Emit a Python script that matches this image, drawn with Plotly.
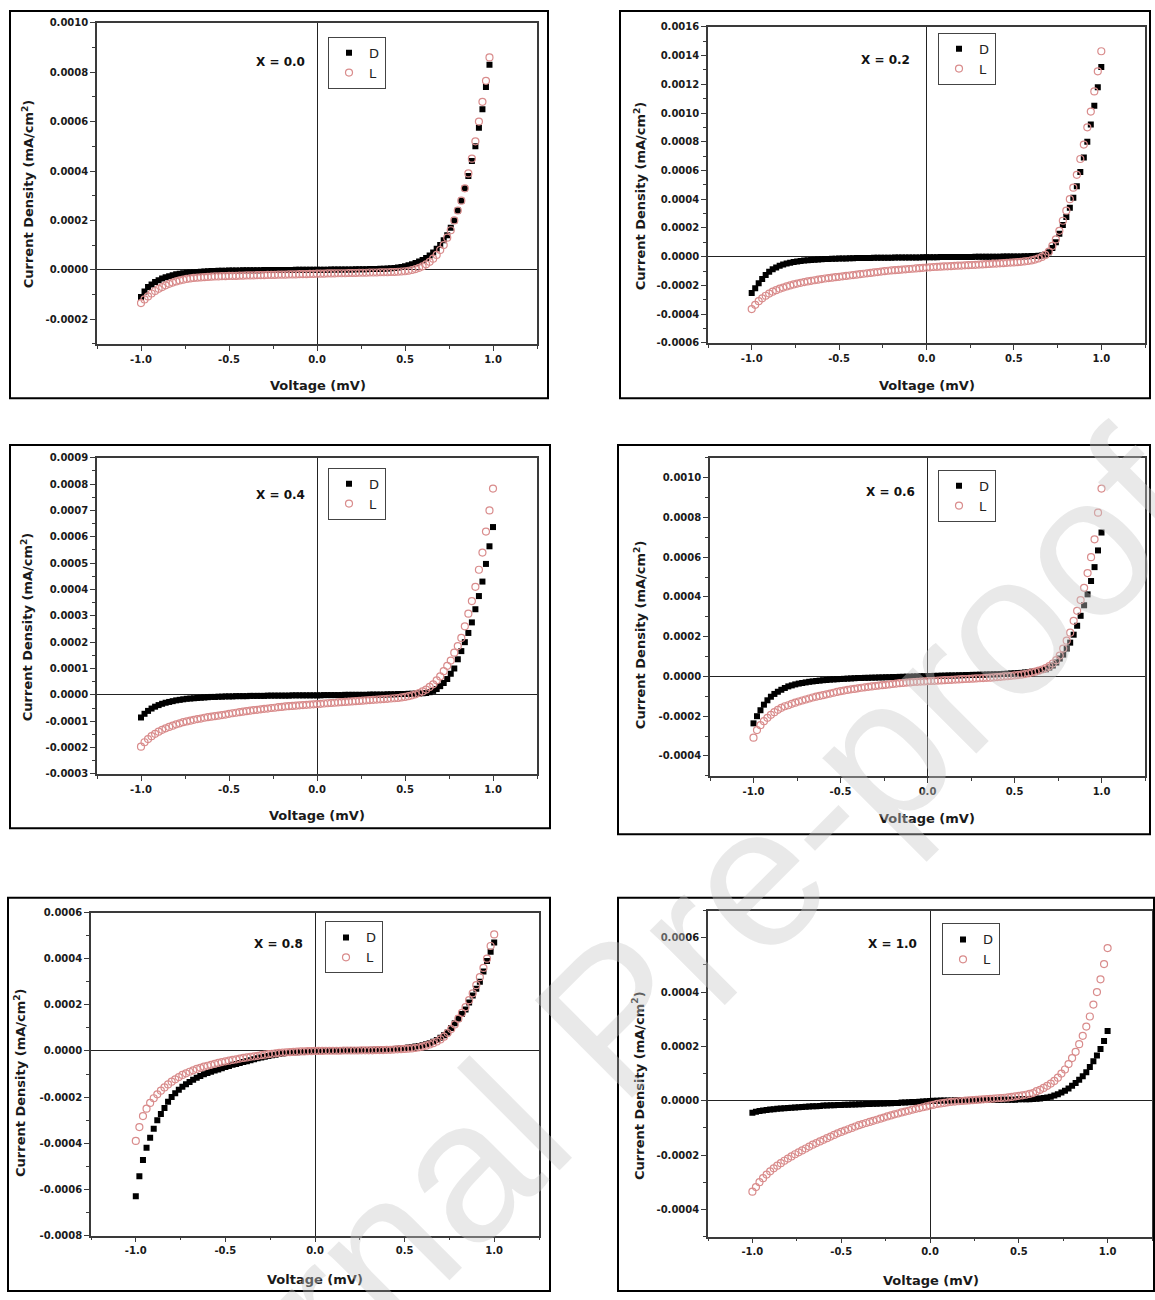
import plotly.graph_objects as go

W, H = 1155, 1300

# ---------------- data (current density in units of 1e-6 mA/cm^2) ----------------
voltage = [
    -1.00, -0.98, -0.96, -0.94, -0.92, -0.90, -0.88, -0.86, -0.84, -0.82,
    -0.80, -0.78, -0.76, -0.74, -0.72, -0.70, -0.68, -0.66, -0.64, -0.62,
    -0.60, -0.58, -0.56, -0.54, -0.52, -0.50, -0.48, -0.46, -0.44, -0.42,
    -0.40, -0.38, -0.36, -0.34, -0.32, -0.30, -0.28, -0.26, -0.24, -0.22,
    -0.20, -0.18, -0.16, -0.14, -0.12, -0.10, -0.08, -0.06, -0.04, -0.02,
    0.00, 0.02, 0.04, 0.06, 0.08, 0.10, 0.12, 0.14, 0.16, 0.18,
    0.20, 0.22, 0.24, 0.26, 0.28, 0.30, 0.32, 0.34, 0.36, 0.38,
    0.40, 0.42, 0.44, 0.46, 0.48, 0.50, 0.52, 0.54, 0.56, 0.58,
    0.60, 0.62, 0.64, 0.66, 0.68, 0.70, 0.72, 0.74, 0.76, 0.78,
    0.80, 0.82, 0.84, 0.86, 0.88, 0.90, 0.92, 0.94, 0.96, 0.98,
    1.00]

x00_D = [
    -110, -88, -70, -60, -50, -42, -35, -30, -26, -22,
    -18, -16, -14, -12, -11, -10, -9, -8, -7, -6,
    -5, -5, -4, -4, -4, -3, -3, -3, -3, -2,
    -2, -2, -2, -2, -2, -1, -1, -1, -1, -1,
    -1, -1, -1, -1, 0, 0, 0, 0, 0, 0,
    0, 0, 0, 0, 1, 1, 1, 1, 1, 1,
    1, 2, 2, 2, 2, 3, 3, 3, 4, 4,
    5, 6, 7, 9, 11, 14, 18, 22, 27, 33,
    40, 48, 58, 70, 85, 100, 120, 140, 170, 200,
    240, 280, 330, 380, 440, 500, 575, 650, 740, 830,
    None]
x00_L = [
    -135, -120, -108, -96, -86, -77, -70, -63, -57, -52,
    -47, -43, -40, -37, -35, -33, -32, -31, -30, -29,
    -28, -27, -27, -26, -26, -25, -25, -25, -24, -24,
    -23, -23, -23, -22, -22, -22, -21, -21, -21, -20,
    -20, -20, -19, -19, -19, -18, -18, -18, -17, -17,
    -16, -16, -16, -15, -15, -15, -14, -14, -14, -13,
    -13, -13, -12, -12, -12, -11, -11, -11, -10, -10,
    -10, -9, -9, -8, -7, -6, -4, -1, 3, 8,
    14, 22, 32, 45, 60, 80, 100, 130, 160, 200,
    240, 280, 330, 390, 450, 520, 600, 680, 765, 860,
    None]

x02_D = [
    -253, -220, -185, -155, -128, -105, -88, -75, -64, -55,
    -48, -42, -37, -33, -30, -27, -25, -23, -21, -19,
    -18, -17, -16, -15, -14, -13, -12, -12, -11, -11,
    -10, -10, -9, -9, -9, -8, -8, -8, -7, -7,
    -7, -6, -6, -6, -6, -5, -5, -5, -5, -4,
    -4, -4, -4, -4, -3, -3, -3, -3, -3, -2,
    -2, -2, -2, -2, -1, -1, -1, -1, 0, 0,
    0, 0, 1, 1, 1, 2, 2, 2, 3, 3,
    4, 5, 6, 8, 15, 30, 60, 100, 160, 220,
    276, 340, 410, 490, 590, 690, 800, 920, 1050, 1180,
    1320]
x02_L = [
    -365, -335, -310, -290, -272, -257, -244, -233, -223, -215,
    -207, -200, -193, -187, -182, -177, -172, -168, -164, -160,
    -156, -152, -149, -146, -143, -140, -137, -134, -131, -128,
    -125, -122, -119, -116, -113, -110, -107, -104, -101, -98,
    -96, -94, -92, -90, -88, -86, -84, -82, -80, -78,
    -76, -74, -72, -71, -70, -68, -67, -66, -64, -63,
    -62, -60, -59, -58, -57, -55, -54, -52, -51, -49,
    -48, -46, -45, -43, -41, -40, -38, -36, -33, -30,
    -26, -20, -12, -2, 12, 35, 75, 120, 180, 250,
    320, 400, 480, 570, 680, 780, 900, 1010, 1150, 1290,
    1430]

x04_D = [
    -86, -72, -61, -52, -45, -39, -34, -30, -27, -24,
    -21, -19, -17, -15, -14, -13, -12, -11, -10, -9,
    -8, -8, -7, -7, -6, -6, -6, -5, -5, -5,
    -5, -4, -4, -4, -4, -4, -3, -3, -3, -3,
    -3, -3, -3, -2, -2, -2, -2, -2, -2, -2,
    -2, -2, -1, -1, -1, -1, -1, -1, 0, 0,
    0, 0, 0, 0, 0, 1, 1, 1, 1, 1,
    2, 2, 2, 3, 3, 3, 4, 4, 5, 5,
    6, 7, 10, 15, 22, 33, 45, 60, 80, 100,
    135, 166, 200, 235, 275, 325, 375, 430, 497, 564,
    637]
x04_L = [
    -197, -180, -168, -157, -148, -140, -133, -127, -122, -117,
    -112, -108, -104, -101, -98, -95, -92, -90, -87, -85,
    -83, -81, -79, -77, -75, -72, -70, -68, -66, -64,
    -62, -60, -58, -57, -55, -53, -52, -50, -49, -47,
    -46, -44, -43, -42, -41, -40, -39, -38, -37, -36,
    -35, -34, -33, -32, -31, -30, -29, -28, -27, -26,
    -25, -24, -23, -22, -21, -20, -19, -18, -17, -16,
    -15, -14, -13, -12, -10, -8, -5, -2, 2, 7,
    13, 20, 30, 40, 55, 70, 90, 110, 130, 160,
    185, 216, 260, 308, 356, 410, 475, 540, 620, 700,
    783]

x06_D = [
    -236, -200, -170, -142, -120, -102, -88, -77, -67, -58,
    -50, -45, -40, -36, -33, -30, -27, -25, -23, -21,
    -19, -18, -16, -15, -14, -13, -12, -11, -10, -9,
    -8, -8, -7, -7, -6, -6, -5, -5, -4, -4,
    -3, -3, -2, -2, -1, -1, 0, 0, 1, 1,
    2, 2, 3, 3, 4, 4, 5, 5, 5, 6,
    6, 7, 7, 8, 8, 9, 9, 10, 10, 11,
    11, 12, 13, 14, 15, 16, 17, 18, 20, 22,
    24, 27, 30, 33, 36, 45, 55, 70, 90, 110,
    140, 170, 210, 255, 305, 358, 413, 480, 550, 634,
    724]
x06_L = [
    -308, -270, -245, -225, -208, -193, -180, -168, -158, -150,
    -145, -138, -132, -126, -121, -116, -111, -106, -102, -98,
    -94, -90, -86, -82, -78, -74, -71, -68, -65, -63,
    -60, -57, -55, -52, -50, -48, -46, -44, -42, -40,
    -38, -36, -34, -33, -31, -30, -28, -27, -26, -25,
    -24, -23, -22, -21, -20, -19, -18, -17, -16, -15,
    -14, -13, -12, -11, -10, -9, -8, -7, -6, -5,
    -3, -2, 0, 1, 3, 5, 7, 9, 12, 15,
    20, 24, 29, 35, 42, 52, 65, 82, 105, 140,
    180, 220, 280, 330, 384, 446, 520, 600, 690, 824,
    945]

x08_D = [
    -630, -543, -473, -419, -376, -337, -300, -273, -247, -220,
    -200, -183, -168, -155, -144, -134, -125, -116, -108, -101,
    -95, -90, -85, -80, -75, -70, -65, -60, -56, -52,
    -48, -44, -40, -36, -32, -28, -25, -22, -19, -16,
    -13, -11, -9, -7, -6, -5, -4, -3, -2, -1,
    0, 0, 1, 1, 1, 1, 2, 2, 2, 2,
    3, 3, 3, 4, 4, 4, 5, 5, 6, 6,
    7, 8, 9, 10, 11, 13, 15, 17, 19, 22,
    25, 29, 34, 40, 48, 57, 68, 80, 100, 120,
    140, 160, 180, 210, 240, 270, 300, 345, 390, 430,
    470]
x08_L = [
    -390, -330, -282, -250, -225, -205, -188, -172, -158, -145,
    -133, -123, -113, -104, -97, -90, -84, -78, -73, -68,
    -64, -60, -56, -52, -48, -45, -42, -39, -36, -33,
    -30, -28, -25, -23, -21, -18, -16, -14, -12, -10,
    -8, -7, -6, -5, -4, -3, -2, -2, -1, -1,
    0, 0, 0, 1, 1, 1, 1, 1, 2, 2,
    2, 2, 2, 3, 3, 3, 3, 4, 4, 4,
    5, 5, 6, 7, 8, 9, 10, 11, 13, 16,
    19, 23, 28, 34, 41, 50, 62, 78, 95, 115,
    140, 165, 190, 220, 250, 285, 320, 360, 400, 455,
    505]

x10_D = [
    -44, -41, -38, -36, -34, -32, -31, -30, -29, -28,
    -27, -26, -25, -24, -23, -22, -21, -20, -20, -19,
    -18, -18, -17, -17, -16, -16, -15, -15, -14, -14,
    -13, -13, -12, -12, -11, -11, -10, -10, -9, -9,
    -8, -8, -7, -7, -6, -5, -5, -4, -3, -2,
    -1, 0, 0, 1, 1, 1, 1, 2, 2, 2,
    2, 2, 2, 3, 3, 3, 3, 3, 3, 3,
    4, 4, 4, 4, 4, 5, 5, 5, 5, 6,
    7, 8, 10, 12, 15, 19, 24, 30, 37, 45,
    55, 65, 77, 90, 105, 124, 145, 166, 190, 220,
    257]
x10_L = [
    -335, -318, -300, -285, -272, -260, -249, -239, -230, -221,
    -213, -205, -197, -190, -183, -176, -169, -162, -156, -150,
    -144, -138, -132, -126, -120, -115, -110, -105, -100, -95,
    -90, -86, -82, -78, -74, -70, -66, -62, -58, -54,
    -50, -47, -43, -40, -37, -33, -30, -27, -24, -21,
    -18, -15, -12, -10, -8, -6, -4, -3, -2, -1,
    0, 1, 2, 3, 4, 5, 6, 7, 8, 9,
    10, 11, 12, 14, 16, 18, 20, 22, 25, 28,
    35, 40, 47, 55, 63, 73, 85, 100, 115, 135,
    157, 180, 208, 239, 273, 310, 354, 400, 447, 503,
    562]

panel_labels = ["X = 0.0", "X = 0.2", "X = 0.4", "X = 0.6", "X = 0.8", "X = 1.0"]
series_names = ["D", "L"]

x_tick_labels = ["-1.0", "-0.5", "0.0", "0.5", "1.0"]
y_tick_labels = [
    ["-0.0002", "0.0000", "0.0002", "0.0004", "0.0006", "0.0008", "0.0010"],
    ["-0.0006", "-0.0004", "-0.0002", "0.0000", "0.0002", "0.0004", "0.0006",
     "0.0008", "0.0010", "0.0012", "0.0014", "0.0016"],
    ["-0.0003", "-0.0002", "-0.0001", "0.0000", "0.0001", "0.0002", "0.0003",
     "0.0004", "0.0005", "0.0006", "0.0007", "0.0008", "0.0009"],
    ["-0.0004", "-0.0002", "0.0000", "0.0002", "0.0004", "0.0006", "0.0008", "0.0010"],
    ["-0.0008", "-0.0006", "-0.0004", "-0.0002", "0.0000", "0.0002", "0.0004", "0.0006"],
    ["-0.0004", "-0.0002", "0.0000", "0.0002", "0.0004", "0.0006"],
]
y_ranges = [[-0.0003, 0.0010], [-0.0006, 0.0016], [-0.0003, 0.0009],
            [-0.0005, 0.0011], [-0.0008, 0.0006], [-0.0005, 0.0007]]
y_minor = [0.0001, 0.0001, 0.00005, 0.0001, 0.0001, 0.0001]
dark_series = [x00_D, x02_D, x04_D, x06_D, x08_D, x10_D]
light_series = [x00_L, x02_L, x04_L, x06_L, x08_L, x10_L]

# ---------------- layout geometry (pixels) ----------------
plot_boxes = [(97, 17, 537, 341), (708, 21, 1145, 340), (97, 456, 537, 775),
              (710, 456, 1145, 777), (91, 915, 539, 1241), (708, 913, 1152, 1242)]
frame_boxes = [(10, 5, 548, 396), (620, 5, 1150, 396), (10, 443, 550, 830),
               (618, 443, 1150, 836), (8, 900, 550, 1297), (618, 900, 1154, 1297)]
label_pos = [(280, 57), (885, 54), (280, 494), (890, 491), (278, 947), (892, 947)]
legend_pos = [(328, 31), (938, 27), (328, 466), (938, 468), (325, 924), (942, 926)]
ytitle_pos = [(28, 190), (640, 192), (27, 627), (640, 635), (20, 1087), (638, 1090)]
xtitle_pos = [(318, 383), (927, 383), (317, 817), (927, 820), (315, 1285), (931, 1286)]

AX = "#3a3a3a"
TICKFONT = dict(family="DejaVu Sans", size=10, color="#1a1a1a", weight="bold")
TITLEFONT = dict(family="DejaVu Sans", size=13, color="#1a1a1a", weight="bold")
PINK = "#d98c8c"


def fx(x):
    return x / W


def fy(y):
    return 1 - y / H


fig = go.Figure()
layout = dict(width=W, height=H, margin=dict(l=0, r=0, t=0, b=0),
              paper_bgcolor="white", plot_bgcolor="white", showlegend=True)
annotations = []
shapes = []

for i in range(6):
    k = i + 1
    sfx = "" if k == 1 else str(k)
    xa, ya = "x" + sfx, "y" + sfx
    leg = "legend" + sfx
    ov = str(k + 6)
    d = [None if v is None else v * 1e-6 for v in dark_series[i]]
    l = [None if v is None else v * 1e-6 for v in light_series[i]]
    fig.add_trace(go.Scatter(
        x=voltage, y=d, mode="markers", name=series_names[0], xaxis=xa, yaxis=ya,
        legend=leg, marker=dict(symbol="square", size=6, color="black")))
    fig.add_trace(go.Scatter(
        x=voltage, y=l, mode="markers", name=series_names[1], xaxis=xa, yaxis=ya,
        legend=leg, marker=dict(symbol="circle-open", size=7, color=PINK,
                                line=dict(width=1.2, color=PINK))))

    x0, y0, x1, y1 = plot_boxes[i]
    xdom = [fx(x0), fx(x1)]
    ydom = [fy(y1), fy(y0)]
    xvals = [float(s) for s in x_tick_labels]
    yvals = [float(s) for s in y_tick_labels[i]]
    layout["xaxis" + sfx] = dict(
        domain=xdom, anchor=ya, range=[-1.25, 1.25], tickmode="array",
        tickvals=xvals, ticktext=x_tick_labels, ticks="outside", ticklen=5,
        tickwidth=1.2, tickcolor=AX, showline=True, linecolor=AX, linewidth=1.5,
        mirror=True, showgrid=False, zeroline=True, zerolinecolor="#222",
        zerolinewidth=1, tickfont=TICKFONT,
        minor=dict(dtick=0.25, tick0=0, ticks="outside", ticklen=3, tickcolor=AX))
    layout["yaxis" + sfx] = dict(
        domain=ydom, anchor=xa, range=y_ranges[i], tickmode="array",
        tickvals=yvals, ticktext=y_tick_labels[i], ticks="outside", ticklen=5,
        tickwidth=1.2, tickcolor=AX, showline=True, linecolor=AX, linewidth=1.5,
        mirror=True, showgrid=False, zeroline=True, zerolinecolor="#222",
        zerolinewidth=1, tickfont=TICKFONT,
        minor=dict(dtick=y_minor[i], tick0=0, ticks="outside", ticklen=3, tickcolor=AX))
    # inside ticks on top and right edges
    layout["xaxis" + ov] = dict(
        overlaying=xa, side="top", anchor=ya, range=[-1.25, 1.25], tickmode="array",
        tickvals=xvals, showticklabels=False, ticks="inside", ticklen=5,
        tickwidth=1.2, tickcolor=AX, showline=False, showgrid=False, zeroline=False,
        minor=dict(dtick=0.25, tick0=0, ticks="inside", ticklen=3, tickcolor=AX))
    layout["yaxis" + ov] = dict(
        overlaying=ya, side="right", anchor=xa, range=y_ranges[i], tickmode="array",
        tickvals=yvals, showticklabels=False, ticks="inside", ticklen=5,
        tickwidth=1.2, tickcolor=AX, showline=False, showgrid=False, zeroline=False,
        minor=dict(dtick=y_minor[i], tick0=0, ticks="inside", ticklen=3, tickcolor=AX))

    lx, ly = legend_pos[i]
    layout[leg] = dict(
        x=fx(lx), y=fy(ly), xanchor="left", yanchor="top", bgcolor="white",
        bordercolor="#444", borderwidth=1, itemwidth=30, tracegroupgap=0,
        font=dict(family="DejaVu Sans", size=13, color="#222"))

    px, py = label_pos[i]
    annotations.append(dict(x=fx(px), y=fy(py), xref="paper", yref="paper",
                            xanchor="center", yanchor="middle",
                            text=panel_labels[i], showarrow=False,
                            font=dict(family="DejaVu Sans", size=12, color="#111", weight="bold")))
    tx, ty = ytitle_pos[i]
    annotations.append(dict(x=fx(tx), y=fy(ty), xref="paper", yref="paper",
                            xanchor="center", yanchor="middle",
                            text="Current Density (mA/cm<sup>2</sup>)", textangle=-90,
                            showarrow=False, font=TITLEFONT))
    tx, ty = xtitle_pos[i]
    annotations.append(dict(x=fx(tx), y=fy(ty), xref="paper", yref="paper",
                            xanchor="center", yanchor="middle",
                            text="Voltage (mV)", showarrow=False, font=TITLEFONT))
    fx0, fy0, fx1, fy1 = frame_boxes[i]
    shapes.append(dict(type="rect", xref="paper", yref="paper",
                       x0=fx(fx0), x1=fx(fx1), y0=fy(fy1), y1=fy(fy0),
                       line=dict(color="black", width=2)))

# watermark
annotations.append(dict(x=fx(615), y=fy(1020), xref="paper", yref="paper",
                        xanchor="center", yanchor="middle",
                        text="Journal Pre-proof", textangle=-45, showarrow=False,
                        font=dict(family="Liberation Sans", size=200,
                                  color="rgba(200,200,200,0.4)")))

layout["annotations"] = annotations
layout["shapes"] = shapes
fig.update_layout(**layout)
fig.write_html("out.html")
